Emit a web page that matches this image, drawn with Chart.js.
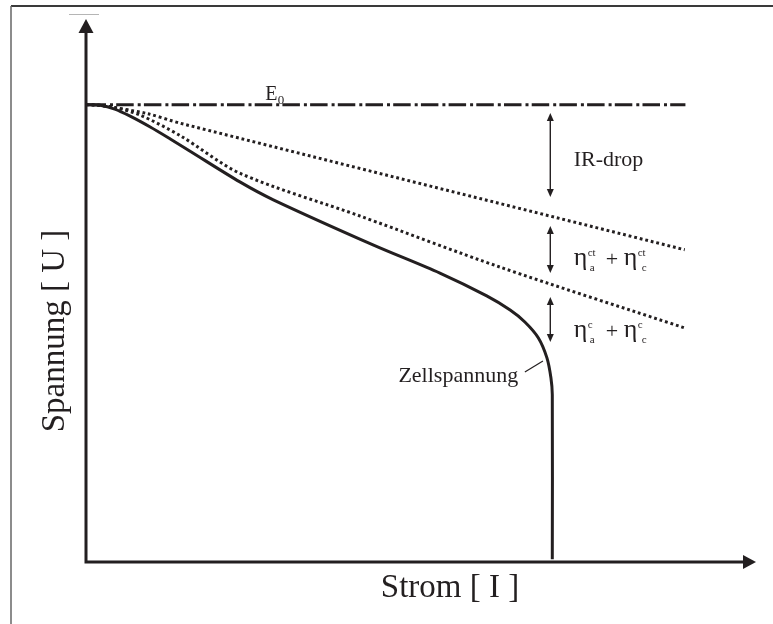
<!DOCTYPE html>
<html>
<head>
<meta charset="utf-8">
<script src="https://cdn.jsdelivr.net/npm/chart.js@4.4.1/dist/chart.umd.min.js"></script>
<style>
  html, body { margin: 0; padding: 0; background: #fff; }
  #wrap { position: relative; width: 773px; height: 624px; }
</style>
</head>
<body>
<div id="wrap"><canvas id="ivChart" width="773" height="624"></canvas></div>
<script>
// Strom-Spannungs-Kennlinie einer Zelle, beliebige Einheiten (0..100)
const E0 = 84.2;
const e0Current = [0, 89.6];

const cellCurrent = [0, 2.1, 4.3, 6.6, 9.6, 12.6, 15.5, 23.0, 28.0, 42.9, 52.9, 59.9, 63.4, 65.6, 67.6, 68.9, 69.5, 69.7, 69.7];
const cellVoltage = [84.2, 84.1, 83.4, 82.1, 80.1, 77.9, 75.7, 70.0, 66.7, 58.4, 53.2, 49.0, 46.4, 44.2, 41.3, 37.6, 33.9, 30.8, 0.5];

// Gerade nach Abzug des IR-Abfalls
const irCurrent = [0, 2.1, 9.1, 14.1, 89.5];
const irVoltage = [84.2, 84.1, 82.6, 80.8, 57.5];

// nach Abzug der Durchtrittsüberspannung
const ctCurrent = [0, 0.9, 4.3, 8.1, 14.1, 23.0, 41.0, 61.9, 89.5];
const ctVoltage = [84.2, 84.2, 83.7, 82.3, 78.5, 71.6, 63.7, 54.3, 43.1];

// Doppelpfeile zwischen den Kurven
const gapCurrent = 69.4;
const gapRanges = [[82.7, 67.2], [61.9, 53.2], [48.8, 40.5]];

const INK = '#231f20';
const SERIF = "'Liberation Serif', 'Times New Roman', serif";

const toPoints = (xs, ys) => xs.map((x, i) => ({ x: x, y: ys[i] }));

const frame = {
  id: 'frame',
  beforeDraw(chart) {
    const ctx = chart.ctx;
    ctx.save();
    ctx.strokeStyle = '#3a3a3a';
    ctx.lineWidth = 2;
    ctx.beginPath();
    ctx.moveTo(11, 6); ctx.lineTo(773, 6);
    ctx.stroke();
    ctx.strokeStyle = '#666';
    ctx.lineWidth = 1.5;
    ctx.beginPath();
    ctx.moveTo(11, 6); ctx.lineTo(11, 624);
    ctx.stroke();
    ctx.strokeStyle = '#b5b5b5';
    ctx.lineWidth = 1;
    ctx.beginPath();
    ctx.moveTo(69, 14.5); ctx.lineTo(99, 14.5);
    ctx.stroke();
    ctx.restore();
  }
};

const axesAndNotes = {
  id: 'axesAndNotes',
  afterDatasetsDraw(chart) {
    const ctx = chart.ctx;
    const sx = chart.scales.x, sy = chart.scales.y;
    const X = v => sx.getPixelForValue(v);
    const Y = v => sy.getPixelForValue(v);
    const ox = X(0), oy = Y(0);
    const ca = chart.chartArea;

    ctx.save();
    ctx.strokeStyle = INK;
    ctx.fillStyle = INK;

    // Achsen mit Pfeilspitzen
    ctx.lineWidth = 3;
    ctx.beginPath();
    ctx.moveTo(ox, oy + 1.5); ctx.lineTo(ox, ca.top + 10);
    ctx.moveTo(ox - 1.5, oy); ctx.lineTo(ca.right - 10, oy);
    ctx.stroke();
    ctx.beginPath();
    ctx.moveTo(ox, ca.top); ctx.lineTo(ox - 7.5, ca.top + 14); ctx.lineTo(ox + 7.5, ca.top + 14);
    ctx.closePath(); ctx.fill();
    ctx.beginPath();
    ctx.moveTo(ca.right + 1, oy); ctx.lineTo(ca.right - 12, oy - 7); ctx.lineTo(ca.right - 12, oy + 7);
    ctx.closePath(); ctx.fill();

    // Doppelpfeile
    ctx.lineWidth = 1.4;
    const ax = X(gapCurrent);
    gapRanges.forEach(([hi, lo]) => {
      const y1 = Y(hi), y2 = Y(lo);
      ctx.beginPath();
      ctx.moveTo(ax, y1 + 4); ctx.lineTo(ax, y2 - 4);
      ctx.stroke();
      ctx.beginPath();
      ctx.moveTo(ax, y1); ctx.lineTo(ax - 3.5, y1 + 8); ctx.lineTo(ax + 3.5, y1 + 8);
      ctx.closePath(); ctx.fill();
      ctx.beginPath();
      ctx.moveTo(ax, y2); ctx.lineTo(ax - 3.5, y2 - 8); ctx.lineTo(ax + 3.5, y2 - 8);
      ctx.closePath(); ctx.fill();
    });

    // Beschriftungen
    ctx.textBaseline = 'alphabetic';
    ctx.textAlign = 'left';
    const text = (s, x, y, size) => {
      ctx.font = size + 'px ' + SERIF;
      ctx.fillText(s, x, y);
    };

    const ex = X(26.8), ey = Y(85.1);
    text('E', ex, ey, 20);
    text('0', ex + 12.5, ey + 4, 13);

    text('IR-drop', X(72.9), Y(72.9), 22);

    const eta = (x, y, sup) => {
      text('\u03b7', x, y, 26);
      text(sup, x + 14, y - 9, 11);
      text('a', x + 16, y + 6, 11);
      text('+', x + 32, y + 1, 22);
      text('\u03b7', x + 50, y, 26);
      text(sup, x + 64, y - 9, 11);
      text('c', x + 68, y + 6, 11);
    };
    eta(X(72.9), Y(54.7), 'ct');
    eta(X(72.9), Y(41.4), 'c');

    ctx.textAlign = 'right';
    text('Zellspannung', X(64.6), Y(33.1), 22);
    ctx.lineWidth = 1.2;
    ctx.beginPath();
    ctx.moveTo(X(65.6), Y(35.0)); ctx.lineTo(X(68.3), Y(37.0));
    ctx.stroke();

    // Achsentitel
    ctx.textAlign = 'center';
    text('Strom [ I ]', ox + 364, oy + 35, 33);
    ctx.translate(ox - 31, oy - 231);
    ctx.rotate(-Math.PI / 2);
    ctx.textBaseline = 'middle';
    text('Spannung [ U ]', 0, 0, 33);
    ctx.restore();
  }
};

new Chart(document.getElementById('ivChart'), {
  type: 'line',
  data: {
    datasets: [
      {
        label: 'Zellspannung',
        data: toPoints(cellCurrent, cellVoltage),
        borderColor: INK,
        borderWidth: 3,
        tension: 0.3,
        pointRadius: 0
      },
      {
        label: 'ohne IR-drop',
        data: toPoints(irCurrent, irVoltage),
        borderColor: INK,
        borderWidth: 3,
        borderDash: [2.8, 2.9],
        borderCapStyle: 'butt',
        tension: 0.3,
        pointRadius: 0
      },
      {
        label: 'ohne Durchtritt',
        data: toPoints(ctCurrent, ctVoltage),
        borderColor: INK,
        borderWidth: 3,
        borderDash: [2.8, 2.9],
        borderCapStyle: 'butt',
        tension: 0.3,
        pointRadius: 0
      },
      {
        label: 'E0',
        data: toPoints(e0Current, e0Current.map(() => E0)),
        borderColor: INK,
        borderWidth: 3,
        borderDash: [17.5, 4, 3, 3.2],
        borderDashOffset: 25.2,
        borderCapStyle: 'butt',
        pointRadius: 0
      }
    ]
  },
  options: {
    responsive: false,
    animation: false,
    events: [],
    layout: { padding: { left: 86, top: 19, right: 18, bottom: 62 } },
    plugins: { legend: { display: false }, tooltip: { enabled: false } },
    scales: {
      x: { type: 'linear', min: 0, max: 100, display: false },
      y: { type: 'linear', min: 0, max: 100, display: false }
    },
    elements: { line: { fill: false } },
    clip: false
  },
  plugins: [frame, axesAndNotes]
});
</script>
</body>
</html>
